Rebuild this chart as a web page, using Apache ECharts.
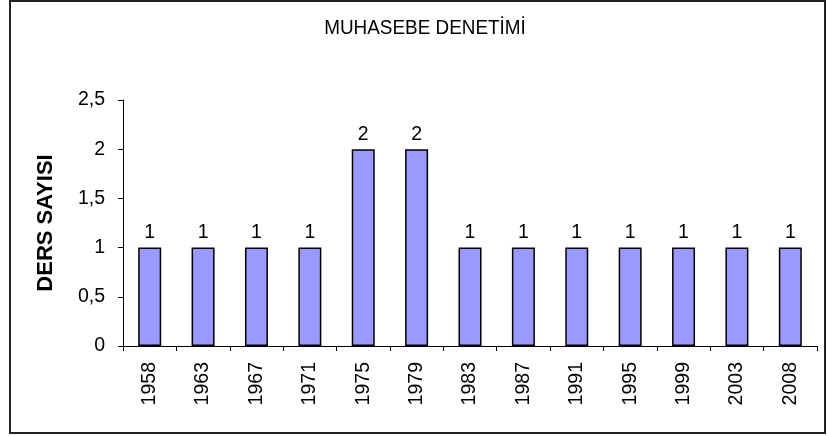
<!DOCTYPE html>
<html>
<head>
<meta charset="utf-8">
<script src="https://cdn.jsdelivr.net/npm/echarts@6/dist/echarts.min.js"></script>
<style>
  html, body { margin: 0; padding: 0; background: #fff; }
  #chart { width: 827px; height: 436px; }
</style>
</head>
<body>
<div id="chart"></div>
<script>
// yıllar ve ders sayıları
const years = ['1958', '1963', '1967', '1971', '1975', '1979', '1983', '1987', '1991', '1995', '1999', '2003', '2008'];
const dersSayisi = [1, 1, 1, 1, 2, 2, 1, 1, 1, 1, 1, 1, 1];
const baslik = 'MUHASEBE DENETİMİ';

const chart = echarts.init(document.getElementById('chart'));

const option = {
  animation: false,
  backgroundColor: '#fff',
  graphic: [
    // dış çerçeve
    {
      type: 'rect',
      shape: { x: 10, y: 1, width: 815, height: 432 },
      style: { fill: 'none', stroke: '#222', lineWidth: 2 },
      silent: true
    },
    // başlık (dar yazı)
    {
      type: 'text',
      x: 425,
      y: 28,
      scaleX: 0.9,
      style: {
        text: baslik,
        fontFamily: 'Liberation Sans, Arial',
        fontSize: 21,
        fill: '#000',
        align: 'center',
        verticalAlign: 'middle'
      },
      silent: true
    }
  ],
  grid: {
    left: 123,
    right: 10,
    top: 100,
    bottom: 90
  },
  xAxis: {
    type: 'category',
    data: years,
    axisLine: { lineStyle: { color: '#000', width: 1 } },
    axisTick: { show: true, length: 5, lineStyle: { color: '#000' } },
    axisLabel: {
      rotate: 90,
      color: '#000',
      fontFamily: 'Liberation Sans, Arial',
      fontSize: 19.5,
      margin: 16
    }
  },
  yAxis: {
    type: 'value',
    min: 0,
    max: 2.5,
    interval: 0.5,
    name: 'DERS SAYISI',
    nameLocation: 'middle',
    nameGap: 66,
    nameRotate: 90,
    nameTextStyle: {
      fontFamily: 'Liberation Sans, Arial',
      fontSize: 22,
      fontWeight: 'bold',
      color: '#000'
    },
    axisLine: { show: true, lineStyle: { color: '#000', width: 1 } },
    axisTick: { show: true, length: 5, lineStyle: { color: '#000' } },
    splitLine: { show: false },
    axisLabel: {
      color: '#000',
      fontFamily: 'Liberation Sans, Arial',
      fontSize: 19.5,
      margin: 18,
      formatter: v => String(v).replace('.', ',')
    }
  },
  series: [
    {
      type: 'bar',
      data: dersSayisi,
      barWidth: 23,
      itemStyle: {
        color: '#9999FF',
        borderColor: '#000',
        borderWidth: 1.5
      },
      label: {
        show: true,
        position: 'top',
        distance: 5,
        color: '#000',
        fontFamily: 'Liberation Sans, Arial',
        fontSize: 19.5
      }
    }
  ]
};

chart.setOption(option);
</script>
</body>
</html>
